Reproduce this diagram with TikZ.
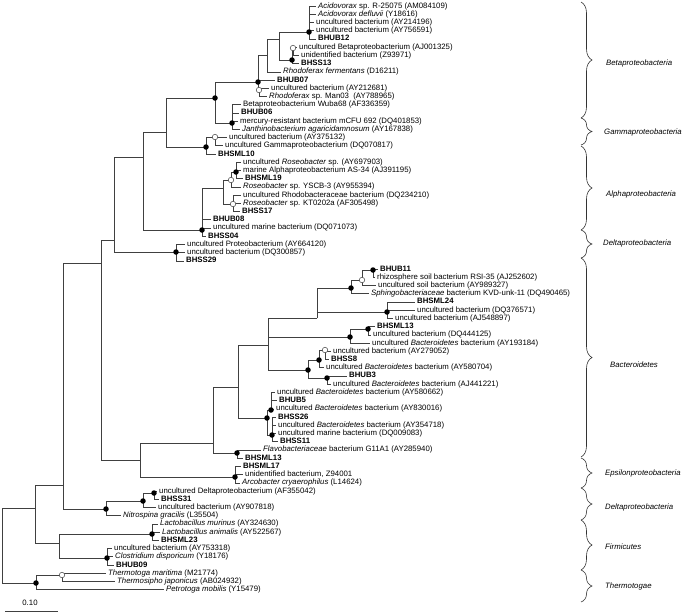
\documentclass[tikz,border=0pt]{standalone}
\usepackage{fontspec}
\setmainfont{Liberation Sans}
\usetikzlibrary{decorations.pathreplacing}
\tikzset{
  lbl/.style={anchor=west, inner xsep=2pt, inner ysep=0pt, text height=5.6pt, text depth=1.6pt, font=\fontsize{7.8}{8}\selectfont},
  br/.style={draw=black!75, line width=0.5pt},
  bdot/.style={circle, fill=black, inner sep=0pt, minimum size=5.5pt},
  wdot/.style={circle, draw=black!75, fill=white, line width=0.5pt, inner sep=0pt, minimum size=5.5pt},
  brc/.style={draw=black!80, line width=0.6pt, decorate, decoration={brace, amplitude=11pt}},
  grp/.style={anchor=west, inner sep=0pt, font=\fontsize{7.8}{9}\selectfont\itshape}
}
\begin{document}
\begin{tikzpicture}[x=1pt,y=-1pt]
\useasboundingbox (0,0) rectangle (685,614);
% ---------------- leaves ----------------
\node[lbl] (L1) at (316,6.0) {\textit{Acidovorax} sp. R-25075 (AM084109)};
\node[lbl] (L2) at (316,14.2) {\textit{Acidovorax defluvii} (Y18616)};
\node[lbl] (L3) at (314,22.4) {uncultured bacterium (AY214196)};
\node[lbl] (L4) at (314,30.7) {uncultured bacterium (AY756591)};
\node[lbl] (L5) at (316,38.9) {\textbf{BHUB12}};
\node[lbl] (L6) at (297,47.1) {uncultured Betaproteobacterium (AJ001325)};
\node[lbl] (L7) at (299,55.3) {unidentified bacterium (Z93971)};
\node[lbl] (L8) at (299,63.5) {\textbf{BHSS13}};
\node[lbl] (L9) at (281,71.8) {\textit{Rhodoferax fermentans} (D16211)};
\node[lbl] (L10) at (275,80.0) {\textbf{BHUB07}};
\node[lbl] (L11) at (269,88.2) {uncultured bacterium (AY212681)};
\node[lbl] (L12) at (267,96.4) {\textit{Rhodoferax} sp. Man03\ \ (AY788965)};
\node[lbl] (L13) at (241,104.6) {Betaproteobacterium Wuba68 (AF336359)};
\node[lbl] (L14) at (239,112.9) {\textbf{BHUB06}};
\node[lbl] (L15) at (238,121.1) {mercury-resistant bacterium mCFU 692 (DQ401853)};
\node[lbl] (L16) at (240,129.3) {\textit{Janthinobacterium agaricidamnosum} (AY167838)};
\node[lbl] (L17) at (227,137.5) {uncultured bacterium (AY375132)};
\node[lbl] (L18) at (223,145.7) {uncultured Gammaproteobacterium (DQ070817)};
\node[lbl] (L19) at (216,154.0) {\textbf{BHSML10}};
\node[lbl] (L20) at (241,162.2) {uncultured \textit{Roseobacter} sp. (AY697903)};
\node[lbl] (L21) at (241,170.4) {marine Alphaproteobacterium AS-34 (AJ391195)};
\node[lbl] (L22) at (243,178.6) {\textbf{BHSML19}};
\node[lbl] (L23) at (241,186.8) {\textit{Roseobacter} sp. YSCB-3 (AY955394)};
\node[lbl] (L24) at (241,195.1) {uncultured Rhodobacteraceae bacterium (DQ234210)};
\node[lbl] (L25) at (241,203.3) {\textit{Roseobacter} sp. KT0202a (AF305498)};
\node[lbl] (L26) at (240,211.5) {\textbf{BHSS17}};
\node[lbl] (L27) at (211,219.7) {\textbf{BHUB08}};
\node[lbl] (L28) at (211,227.9) {uncultured marine bacterium (DQ071073)};
\node[lbl] (L29) at (206,236.2) {\textbf{BHSS04}};
\node[lbl] (L30) at (185,244.4) {uncultured Proteobacterium (AY664120)};
\node[lbl] (L31) at (185,252.6) {uncultured bacterium (DQ300857)};
\node[lbl] (L32) at (184,260.8) {\textbf{BHSS29}};
\node[lbl] (L33) at (378,269.0) {\textbf{BHUB11}};
\node[lbl] (L34) at (375,277.3) {rhizosphere soil bacterium RSI-35 (AJ252602)};
\node[lbl] (L35) at (376,285.5) {uncultured soil bacterium (AY989327)};
\node[lbl] (L36) at (369,293.7) {\textit{Sphingobacteriaceae} bacterium KVD-unk-11 (DQ490465)};
\node[lbl] (L37) at (415,301.9) {\textbf{BHSML24}};
\node[lbl] (L38) at (415,310.1) {uncultured bacterium (DQ376571)};
\node[lbl] (L39) at (393,318.4) {uncultured bacterium (AJ548897)};
\node[lbl] (L40) at (375,326.6) {\textbf{BHSML13}};
\node[lbl] (L41) at (371,334.8) {uncultured bacterium (DQ444125)};
\node[lbl] (L42) at (370,343.0) {uncultured \textit{Bacteroidetes} bacterium (AY193184)};
\node[lbl] (L43) at (331,351.2) {uncultured bacterium (AY279052)};
\node[lbl] (L44) at (329,359.5) {\textbf{BHSS8}};
\node[lbl] (L45) at (324,367.7) {uncultured \textit{Bacteroidetes} bacterium (AY580704)};
\node[lbl] (L46) at (347,375.9) {\textbf{BHUB3}};
\node[lbl] (L47) at (331,384.1) {uncultured \textit{Bacteroidetes} bacterium (AJ441221)};
\node[lbl] (L48) at (275,392.3) {uncultured \textit{Bacteroidetes} bacterium (AY580662)};
\node[lbl] (L49) at (277,400.6) {\textbf{BHUB5}};
\node[lbl] (L50) at (274,408.8) {uncultured \textit{Bacteroidetes} bacterium (AY830016)};
\node[lbl] (L51) at (276,417.0) {\textbf{BHSS26}};
\node[lbl] (L52) at (276,425.2) {uncultured \textit{Bacteroidetes} bacterium (AY354718)};
\node[lbl] (L53) at (276,433.4) {uncultured marine bacterium (DQ009083)};
\node[lbl] (L54) at (278,441.7) {\textbf{BHSS11}};
\node[lbl] (L55) at (261,449.9) {\textit{Flavobacteriaceae} bacterium G11A1 (AY285940)};
\node[lbl] (L56) at (243,458.1) {\textbf{BHSML13}};
\node[lbl] (L57) at (241,466.3) {\textbf{BHSML17}};
\node[lbl] (L58) at (243,474.5) {unidentified bacterium, Z94001};
\node[lbl] (L59) at (240,482.8) {\textit{Arcobacter cryaerophilus} (L14624)};
\node[lbl] (L60) at (157,491.0) {uncultured Deltaproteobacterium (AF355042)};
\node[lbl] (L61) at (159,499.2) {\textbf{BHSS31}};
\node[lbl] (L62) at (156,507.4) {uncultured bacterium (AY907818)};
\node[lbl] (L63) at (121,515.6) {\textit{Nitrospina gracilis} (L35504)};
\node[lbl] (L64) at (158,523.9) {\textit{Lactobacillus murinus} (AY324630)};
\node[lbl] (L65) at (160,532.1) {\textit{Lactobacillus animalis} (AY522567)};
\node[lbl] (L66) at (159,540.3) {\textbf{BHSML23}};
\node[lbl] (L67) at (112,548.5) {uncultured bacterium (AY753318)};
\node[lbl] (L68) at (113,556.7) {\textit{Clostridium disporicum} (Y18176)};
\node[lbl] (L69) at (114,565.0) {\textbf{BHUB09}};
\node[lbl] (L70) at (106,573.2) {\textit{Thermotoga maritima} (M21774)};
\node[lbl] (L71) at (115,581.4) {\textit{Thermosipho japonicus} (AB024932)};
\node[lbl] (L72) at (164,589.6) {\textit{Petrotoga mobilis} (Y15479)};
% ---------------- internal nodes ----------------
\coordinate (A) at (309,32);
\coordinate (W13) at (293,48);
\coordinate (S13) at (292,60);
\coordinate (B) at (279,39);
\coordinate (C) at (267,55);
\coordinate (W07) at (259,90);
\coordinate (N258) at (258,82);
\coordinate (B06) at (232,123);
\coordinate (Beta) at (215,98);
\coordinate (Wg) at (215,137);
\coordinate (Gam) at (206,147);
\coordinate (N166) at (166,132);
\coordinate (Ba) at (236,172);
\coordinate (Wa1) at (231,180);
\coordinate (Wa2) at (233,204);
\coordinate (Na) at (223,188);
\coordinate (Alp) at (202,230);
\coordinate (N143) at (143,157);
\coordinate (S29) at (176,252);
\coordinate (N114) at (114,240);
\coordinate (U11) at (373,270);
\coordinate (W11) at (362,280);
\coordinate (N351) at (351,288);
\coordinate (S24) at (387,312);
\coordinate (N317) at (317,318);
\coordinate (M13a) at (368,329);
\coordinate (M13) at (350,337);
\coordinate (W8) at (325,350);
\coordinate (D8) at (319,360);
\coordinate (U3) at (327,378);
\coordinate (N308) at (308,370);
\coordinate (N268) at (268,345);
\coordinate (B5) at (271,410);
\coordinate (S26) at (272,435);
\coordinate (G5) at (267,418);
\coordinate (N238) at (238,387);
\coordinate (Fla) at (237,453);
\coordinate (Bac) at (213,443);
\coordinate (Eps) at (235,477);
\coordinate (N140) at (140,460);
\coordinate (N101) at (101,263);
\coordinate (D31) at (154,493);
\coordinate (N143b) at (143,501);
\coordinate (Nit) at (106,509);
\coordinate (N63) at (63,485);
\coordinate (Lac) at (152,534);
\coordinate (Clo) at (107,558);
\coordinate (Fir) at (59,543);
\coordinate (X) at (35,508);
\coordinate (Wt) at (62,575);
\coordinate (Th) at (36,583);
\coordinate (R) at (2,508);
% ---------------- branches ----------------
\foreach \p/\c in {A/L1.west,A/L2.west,A/L3.west,A/L4.west,A/L5.west,
  W13/L6.west,W13/L7.west,S13/W13,S13/L8.west,B/A,B/S13,C/B,C/L9.west,
  W07/L11.west,W07/L12.west,N258/C,N258/L10.west,N258/W07,
  B06/L13.west,B06/L14.west,B06/L15.west,B06/L16.west,Beta/N258,Beta/B06,
  Wg/L17.west,Wg/L18.west,Gam/Wg,Gam/L19.west,N166/Beta,N166/Gam,
  Ba/L20.west,Ba/L21.west,Ba/L22.west,Wa1/Ba,Wa1/L23.west,
  Wa2/L24.west,Wa2/L25.west,Wa2/L26.west,Na/Wa1,Na/Wa2,
  Alp/Na,Alp/L27.west,Alp/L28.west,Alp/L29.west,N143/N166,N143/Alp,
  S29/L30.west,S29/L31.west,S29/L32.west,N114/N143,N114/S29,
  U11/L33.west,U11/L34.west,W11/U11,W11/L35.west,N351/W11,N351/L36.west,
  S24/L37.west,S24/L38.west,S24/L39.west,N317/N351,N317/S24,
  M13a/L40.west,M13a/L41.west,M13/M13a,M13/L42.west,
  W8/L43.west,W8/L44.west,D8/W8,D8/L45.west,U3/L46.west,U3/L47.west,N308/D8,N308/U3,
  N268/N317,N268/M13,N268/N308,
  B5/L48.west,B5/L49.west,B5/L50.west,S26/L51.west,S26/L52.west,S26/L53.west,S26/L54.west,
  G5/B5,G5/S26,N238/N268,N238/G5,Fla/L55.west,Fla/L56.west,Bac/N238,Bac/Fla,
  Eps/L57.west,Eps/L58.west,Eps/L59.west,N140/Bac,N140/Eps,N101/N114,N101/N140,
  D31/L60.west,D31/L61.west,N143b/D31,N143b/L62.west,Nit/N143b,Nit/L63.west,
  N63/N101,N63/Nit,
  Lac/L64.west,Lac/L65.west,Lac/L66.west,Clo/L67.west,Clo/L68.west,Clo/L69.west,Fir/Lac,Fir/Clo,
  X/N63,X/Fir,
  Wt/L70.west,Wt/L71.west,Th/Wt,Th/L72.west,R/X,R/Th}
  \draw[br] (\p) |- (\c);
% ---------------- support dots ----------------
\foreach \n in {A,S13,N258,B06,Beta,Gam,Ba,Alp,S29,U11,N351,S24,M13a,M13,D8,N308,U3,B5,G5,S26,Fla,Eps,D31,N143b,Nit,Lac,Clo,Th}
  \node[bdot] at (\n) {};
\foreach \n in {W13,W07,Wg,Wa1,Wa2,W11,W8,Wt}
  \node[wdot] at (\n) {};
% ---------------- group braces ----------------
\draw[brc] (581,2) -- (581,118);
\draw[brc] (581,118) -- (581,145);
\draw[brc] (581,146) -- (581,230);
\draw[brc] (581,230) -- (581,258);
\draw[brc] (581,258) -- (581,457);
\draw[brc] (581,458) -- (581,488);
\draw[brc] (581,488) -- (581,520);
\draw[brc] (581,520) -- (581,570);
\draw[brc] (581,570) -- (581,602);
\node[grp] (g1) at (606,63) {Betaproteobacteria};
\node[grp] (g2) at (604,132) {Gammaproteobacteria};
\node[grp] (g3) at (606,194) {Alphaproteobacteria};
\node[grp] (g4) at (603,243) {Deltaproteobacteria};
\node[grp] (g5) at (610,365) {Bacteroidetes};
\node[grp] (g6) at (605,473) {Epsilonproteobacteria};
\node[grp] (g7) at (605,507) {Deltaproteobacteria};
\node[grp] (g8) at (605,547) {Firmicutes};
\node[grp] (g9) at (605,586) {Thermotogae};
% ---------------- scale bar ----------------
\coordinate (s1) at (5,611);
\coordinate (s2) at (58,611);
\draw[br] (s1) -- (s2);
\node[font=\fontsize{7.8}{9}\selectfont, inner sep=0pt] (sl) at (30,603) {0.10};
\end{tikzpicture}
\end{document}
